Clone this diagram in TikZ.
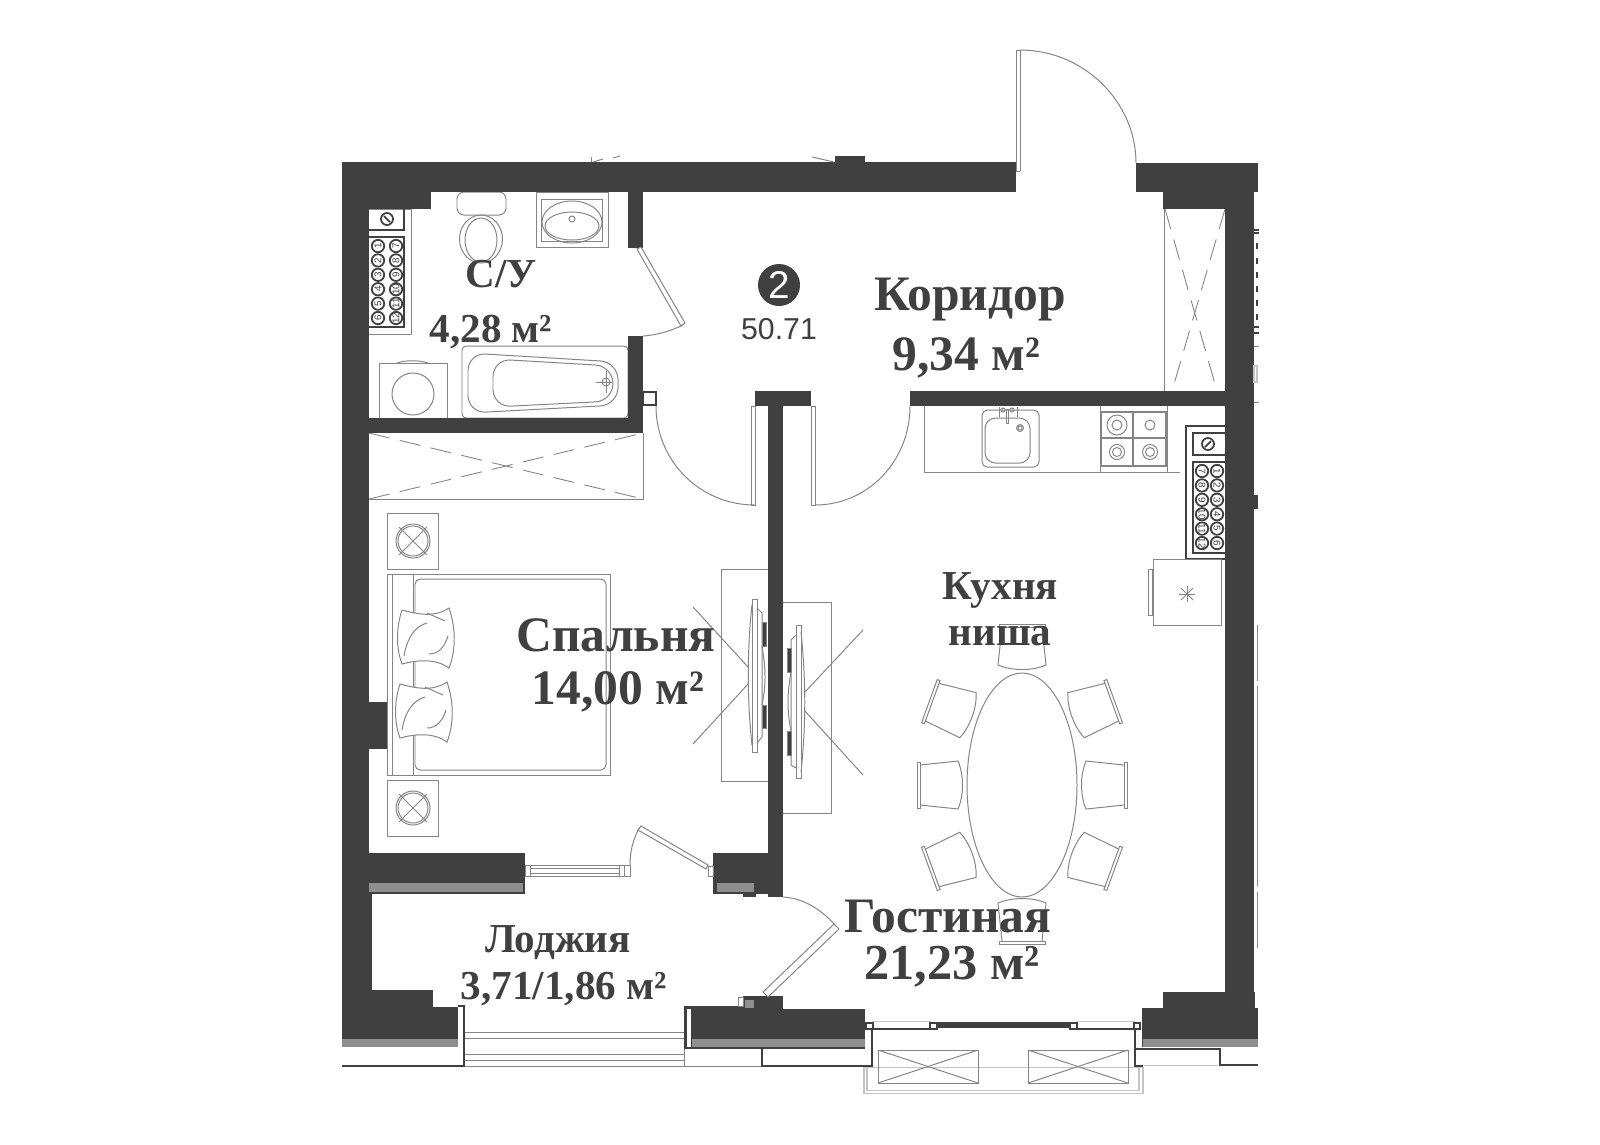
\documentclass[tikz,border=0pt]{standalone}
\usepackage{fontspec}
\setmainfont{Liberation Serif}
\newfontfamily\numfont{Liberation Sans}
\definecolor{wallcol}{HTML}{404040}
\definecolor{linecol}{HTML}{858585}
\definecolor{hatchcol}{HTML}{8E8E8E}
\definecolor{lightcol}{HTML}{C4C4C4}
\tikzset{
  wall/.style={fill=wallcol,draw=none},
  hatch/.style={fill=hatchcol,draw=none},
  fineline/.style={draw=linecol,line width=0.28pt},
  panelline/.style={draw=wallcol,line width=0.5pt},
  darkline/.style={draw=wallcol,line width=0.6pt},
  dashline/.style={draw=linecol,line width=0.25pt,dash pattern=on 6pt off 3pt},
  room/.style={text=wallcol,font=\bfseries\fontsize{14.1}{16}\selectfont,inner sep=0pt},
  smallroom/.style={text=wallcol,font=\bfseries\fontsize{11.7}{14}\selectfont,inner sep=0pt},
  dial/.style={text=wallcol,font=\numfont\fontsize{2.8}{3}\selectfont,inner sep=0pt},
}
\newcommand{\chair}[3]{
  \begin{scope}[shift={(#1,#2)},rotate=#3]
    \draw[fineline] (-23,-23) rectangle (-20,23) ;
    \draw[fineline] (-20,-20) -- (18,-24) .. controls (24,-10) and (24,10) .. (18,24) -- (-20,20) ;
  \end{scope}
}
\newcommand{\pillow}[2]{
  \begin{scope}[shift={(#1,#2)}]
    \draw[fineline,fill=white] (3,2) .. controls (18,6) and (35,10) .. (50,0) .. controls (57,20) and (57,42) .. (50,60) .. controls (36,50) and (18,52) .. (3,56) .. controls (-3,40) and (-3,20) .. (3,2) ;
    \draw[fineline] (5,48) .. controls (8,30) and (16,18) .. (28,15) ;
    \draw[fineline] (30,46) .. controls (40,46) and (46,38) .. (49,28) ;
    \draw[fineline] (28,5) -- (46,13) ;
  \end{scope}
}
\newcommand{\stand}[1]{
  \begin{scope}[shift={(413,#1)}]
    \draw[fineline] (-26,-28) rectangle (25,28) ;
    \draw[fineline] (0,0) circle (17) ;
    \draw[fineline] (0,0) circle (15) ;
    \draw[fineline] (-14,-14) -- (14,14) ;
    \draw[fineline] (-14,14) -- (14,-14) ;
  \end{scope}
}
\begin{document}
\begin{tikzpicture}[x=0.01cm,y=-0.01cm]
  \useasboundingbox (0,0) rectangle (1600,1144) ;
  \fill[white] (0,0) rectangle (1600,1144) ;

  % furniture first, the labels go over it
  \draw[dashline] (369,433) -- (643,499) ;
  \draw[dashline] (369,499) -- (643,433) ;
  \draw[fineline] (369,499) -- (643,499) -- (643,433) ;
  \draw[dashline] (1165,209) -- (1217,391) ;
  \draw[dashline] (1225,209) -- (1172,391) ;
  \draw[fineline] (1164,209) -- (1164,391) ;

  % wc
  \draw[fineline,rounded corners=2pt] (457,192) rectangle (506,215) ;
  \draw[fineline] (481,239) ellipse (21.5 and 24) ;
  \draw[fineline] (481,240) ellipse (16 and 22) ;
  \draw[fineline] (536,192) rectangle (608,247) ;
  \draw[fineline] (541,199) rectangle (602,241) ;
  \draw[fineline] (572,222) ellipse (30 and 21) ;
  \draw[fineline] (572,226) ellipse (27 and 14) ;
  \draw[fineline] (572,219) circle (3) ;

  % bath
  \draw[fineline,rounded corners=1.2pt] (462,346) rectangle (628,418) ;
  \draw[fineline,rounded corners=5pt] (468,353) -- (618,362) -- (618,405) -- (468,413) -- cycle ;
  \draw[fineline,rounded corners=5pt] (493,359) -- (613,366) -- (613,401) -- (493,407) -- cycle ;
  \draw[fineline] (606,382) circle (4) ;
  \draw[fineline] (596,382) -- (612,382) ;
  \draw[fineline] (606,371) -- (606,393) ;
  \draw[fineline] (379,418) -- (379,363) -- (447,363) -- (447,418) ;
  \draw[fineline] (413,394) circle (21) ;
  \draw[fineline] (397,363) .. controls (405,360) and (420,360) .. (428,363) ;

  % switch panel in the wc
  \draw[fineline] (369,209) -- (411,209) -- (411,334) -- (369,334) ;
  \draw[panelline] (369,230) -- (404,230) -- (404,209) ;
  \draw[panelline] (369,237) -- (404,237) -- (404,327) -- (369,327) ;
  \draw[panelline] (387,219) circle (6) ;
  \draw[panelline] (384,216) -- (390,222) ;
  \foreach \i in {1,...,6} {
    \pgfmathsetmacro{\ny}{246+(\i-1)*14.4}
    \pgfmathtruncatemacro{\nb}{\i+6}
    \draw[panelline] (378,\ny) circle (6.2) ;
    \draw[panelline] (396,\ny) circle (6.2) ;
    \node[dial,rotate=90] (wa\i) at (378,\ny) {\i} ;
    \node[dial,rotate=90] (wb\i) at (396,\ny) {\nb} ;
  }

  % kitchen
  \draw[fineline] (924,406) -- (924,472) -- (1180,472) ;
  \draw[fineline,rounded corners=1.5pt] (982,410) rectangle (1039,467) ;
  \draw[fineline,rounded corners=3pt] (985,418) rectangle (1030,463) ;
  \draw[fineline] (999,407) -- (999,417) ;
  \draw[fineline] (1017,407) -- (1017,417) ;
  \draw[fineline] (1006,409) rectangle (1008,423) ;
  \draw[fineline] (1003,410) circle (2) ;
  \draw[fineline] (1012,410) circle (2) ;
  \draw[fineline] (1020,428) circle (3.5) ;
  \draw[fineline] (1020,428) circle (2) ;
  \draw[fineline] (1100,406) -- (1100,472) ;
  \draw[fineline] (1167,406) -- (1167,472) ;
  \draw[draw=linecol,line width=0.45pt] (1101,412) rectangle (1166,466) ;
  \draw[draw=linecol,line width=0.45pt] (1133,412) -- (1133,466) ;
  \draw[draw=linecol,line width=0.45pt] (1101,438) -- (1166,438) ;
  \draw[fineline] (1117,425) circle (10) ;
  \draw[fineline] (1117,425) circle (5) ;
  \draw[fineline] (1150,425) circle (5) ;
  \draw[fineline] (1117,452) circle (7.5) ;
  \draw[fineline] (1117,452) circle (4.5) ;
  \draw[fineline] (1150,452) circle (7.5) ;
  \draw[fineline] (1150,452) circle (4.5) ;

  % switch panel in the kitchen
  \draw[panelline] (1225,426) -- (1186,426) -- (1186,559) -- (1225,559) ;
  \draw[panelline] (1225,433) -- (1193,433) -- (1193,455) -- (1225,455) ;
  \draw[panelline] (1225,462) -- (1193,462) -- (1193,553) -- (1225,553) ;
  \draw[panelline] (1208,444) circle (6) ;
  \draw[panelline] (1205,447) -- (1211,441) ;
  \foreach \i in {1,...,6} {
    \pgfmathsetmacro{\ny}{471+(\i-1)*14.4}
    \pgfmathtruncatemacro{\nb}{\i+6}
    \draw[panelline] (1217,\ny) circle (6.2) ;
    \draw[panelline] (1202,\ny) circle (6.2) ;
    \node[dial,rotate=-90] (ka\i) at (1217,\ny) {\i} ;
    \node[dial,rotate=-90] (kb\i) at (1202,\ny) {\nb} ;
  }
  \draw[fineline] (1153,559) rectangle (1221,625) ;
  \draw[fineline] (1148,569) rectangle (1152,615) ;
  \draw[fineline] (1179,594) -- (1195,594) ;
  \draw[fineline] (1187,586) -- (1187,602) ;
  \draw[fineline] (1181,588) -- (1193,600) ;
  \draw[fineline] (1181,600) -- (1193,588) ;

  % bed
  \stand{541}
  \stand{808}
  \draw[fineline] (387,574) rectangle (610,775) ;
  \draw[fineline] (392,574) -- (392,775) ;
  \draw[fineline] (413,574) -- (413,775) ;
  \draw[fineline,rounded corners=1.5pt] (415,579) rectangle (606,770) ;
  \pillow{399}{608}
  \pillow{397}{682}

  % tv
  \draw[fineline] (768,569) -- (721,569) -- (721,781) -- (768,781) ;
  \draw[fineline] (783,602) -- (831,602) -- (831,813) -- (783,813) ;
  \draw[fineline] (693,607) -- (749,668) ;
  \draw[fineline] (693,744) -- (749,683) ;
  \draw[fineline] (863,630) -- (804,693) ;
  \draw[fineline] (863,775) -- (804,710) ;
  \draw[fineline] (752,599) rectangle (757,752) ;
  \draw[fineline] (752,605) .. controls (747,650) and (747,700) .. (752,745) ;
  \draw[fineline] (757,608) -- (762,613) -- (762,737) -- (757,743) ;
  \draw[fineline] (762,646) .. controls (766,670) and (766,685) .. (762,705) ;
  \draw[fineline,fill=wallcol] (762,622) rectangle (766,646) ;
  \draw[fineline,fill=wallcol] (762,705) rectangle (766,728) ;
  \draw[fineline] (796,625) rectangle (801,778) ;
  \draw[fineline] (801,632) .. controls (806,680) and (806,725) .. (801,772) ;
  \draw[fineline] (796,635) -- (791,640) -- (791,765) -- (796,768) ;
  \draw[fineline] (791,672) .. controls (787,695) and (787,710) .. (791,731) ;
  \draw[fineline,fill=wallcol] (787,648) rectangle (791,672) ;
  \draw[fineline,fill=wallcol] (787,731) rectangle (791,755) ;

  % dining table
  \draw[fineline] (1022,785) ellipse (55 and 112) ;
  \chair{940}{785}{0}
  \chair{951}{709}{-20}
  \chair{951}{861}{20}
  \chair{1104}{785}{180}
  \chair{1093}{709}{200}
  \chair{1093}{861}{160}
  \chair{1022}{647}{-90}
  \chair{1022}{921}{90}

  % walls
  \path[wall] (342,162) rectangle (1016,192) ;
  \path[wall] (342,162) rectangle (369,1047) ;
  \path[wall] (369,853) rectangle (525,894) ;
  \path[wall] (369,894) rectangle (372,990) ;
  \path[wall] (342,990) rectangle (433,1007) ;
  \path[wall] (342,1007) rectangle (458,1047) ;
  \path[wall] (369,192) rectangle (431,209) ;
  \path[wall] (369,702) rectangle (387,749) ;
  \path[wall] (628,192) rectangle (643,248) ;
  \path[wall] (628,336) rectangle (643,433) ;
  \path[wall] (369,418) rectangle (643,433) ;
  \path[wall] (755,391) rectangle (811,406) ;
  \path[wall] (768,406) rectangle (783,897) ;
  \path[wall] (713,853) rectangle (783,894) ;
  \path[wall] (743,894) rectangle (756,897) ;
  \path[wall] (910,391) rectangle (1225,406) ;
  \path[wall] (835,156) rectangle (865,162) ;
  \path[wall] (1136,163) rectangle (1258,192) ;
  \path[wall] (1163,192) rectangle (1254,209) ;
  \path[wall] (1225,192) rectangle (1254,992) ;
  \path[wall] (1163,992) rectangle (1255,1009) ;
  \path[wall] (1142,1008) rectangle (1258,1047) ;
  \path[wall] (684,1006) rectangle (783,1049) ;
  \path[wall] (743,996) rectangle (783,1006) ;
  \path[wall] (783,1009) rectangle (865,1049) ;
  \path[wall] (1250,495) rectangle (1258,509) ;
  \fill[white] (687,1009) rectangle (691,1047) ;
  \path[hatch] (369,883) rectangle (523,892) ;
  \path[hatch] (717,883) rectangle (754,892) ;
  \path[hatch] (342,1039) rectangle (458,1047) ;
  \path[hatch] (692,1039) rectangle (865,1047) ;
  \path[hatch] (1143,1039) rectangle (1258,1047) ;
  \path[hatch] (745,1000) rectangle (754,1008) ;

  % doors
  \draw[fineline] (1020,171) -- (1016,171) -- (1016,50) -- (1020,50) -- (1020,171) ;
  \draw[fineline] (1020,50) .. controls (1084,50) and (1136,102) .. (1136,163) ;
  \draw[fineline] (751,406) rectangle (755,505) ;
  \draw[fineline] (755,505) .. controls (700,505) and (656,461) .. (656,406) ;
  \draw[fineline] (811,406) rectangle (815,505) ;
  \draw[fineline] (815,505) .. controls (868,505) and (910,461) .. (910,406) ;
  \draw[darkline,line width=0.3pt] (643,392) rectangle (656,405) ;
  \draw[fineline] (637,249) -- (641,247) -- (685,323) -- (681,326) -- cycle ;
  \draw[fineline] (683,325) .. controls (671,331) and (657,335) .. (643,336) ;
  \draw[fineline] (638,830) -- (641,826) -- (708,865) -- (706,869) -- cycle ;
  \draw[fineline] (630,865) .. controls (630,851) and (633,840) .. (639,828) ;
  \draw[fineline] (763,992) -- (768,997) -- (839,929) -- (834,924) -- cycle ;
  \draw[fineline] (836,926) .. controls (820,908) and (802,898) .. (783,897) ;

  % balcony door and windows
  \draw[fineline] (525,865) rectangle (530,876) ;
  \draw[fineline] (530,865) -- (619,865) ;
  \draw[fineline] (530,868) -- (619,868) ;
  \draw[fineline] (530,873) -- (619,873) ;
  \draw[fineline] (530,876) -- (619,876) ;
  \draw[fineline] (619,865) rectangle (630,876) ;
  \draw[fineline] (624,865) -- (624,876) ;
  \draw[fineline] (708,866) rectangle (713,876) ;
  \draw[fineline] (738,997) rectangle (743,1006) ;
  \draw[darkline] (458,1006) -- (464,1006) -- (464,1066) -- (342,1066) ;
  \draw[fineline] (465,1032) -- (684,1032) ;
  \draw[fineline] (465,1038) -- (684,1038) ;
  \draw[fineline] (465,1054) -- (684,1054) ;
  \draw[fineline] (465,1060) -- (684,1060) ;
  \draw[fineline] (465,1066) -- (762,1066) ;
  \draw[fineline] (684,1049) -- (684,1066) ;
  \draw[darkline] (762,1049) -- (762,1066) -- (872,1066) -- (872,1029) ;
  \draw[darkline] (1135,1029) -- (1135,1066) -- (1143,1066) ;
  \draw[darkline] (1135,1049) -- (1220,1049) -- (1220,1065) -- (1258,1065) ;
  \draw[draw=lightcol,line width=0.3pt] (1143,1065) -- (1218,1065) ;
  \draw[draw=lightcol,line width=0.3pt] (864,1067) -- (1143,1067) ;
  \draw[draw=lightcol,line width=0.3pt] (864,1067) -- (864,1093) -- (1143,1093) -- (1143,1067) ;
  \draw[draw=lightcol,line width=0.3pt] (867,1067) -- (867,1090) -- (1139,1090) -- (1139,1067) ;
  \draw[fineline] (878,1050) rectangle (978,1083) ;
  \draw[fineline] (878,1050) -- (978,1083) ;
  \draw[fineline] (878,1083) -- (978,1050) ;
  \draw[fineline] (1028,1050) rectangle (1128,1083) ;
  \draw[fineline] (1028,1050) -- (1128,1083) ;
  \draw[fineline] (1028,1083) -- (1128,1050) ;
  \draw[draw=lightcol,line width=0.3pt] (873,1021) rectangle (930,1028) ;
  \draw[draw=lightcol,line width=0.3pt] (1077,1021) rectangle (1134,1028) ;
  \draw[panelline] (873,1029) -- (930,1029) ;
  \draw[panelline] (1077,1029) -- (1134,1029) ;
  \draw[darkline] (937,1023.5) -- (1070,1023.5) ;
  \draw[darkline] (937,1026.5) -- (1070,1026.5) ;
  \draw[panelline,fill=white] (866,1023) rectangle (873,1029) ;
  \draw[panelline,fill=white] (930,1023) rectangle (937,1029) ;
  \draw[panelline,fill=white] (1070,1023) rectangle (1077,1029) ;
  \draw[panelline,fill=white] (1134,1023) rectangle (1140,1029) ;

  % marks outside the walls
  \draw[fineline] (591,157) -- (591,162) ;
  \draw[fineline] (593,162) -- (603,159) ;
  \draw[fineline] (613,158) -- (620,156) ;
  \draw[fineline] (812,157) -- (834,162) ;
  \draw[draw=lightcol,line width=0.4pt] (1254,366) rectangle (1257,382) ;
  \draw[panelline] (1254,230) -- (1259,230) ;
  \draw[panelline] (1254,233) -- (1259,233) ;
  \draw[panelline] (1254,327) -- (1259,327) ;
  \draw[panelline] (1254,333) -- (1259,333) ;
  \foreach \my in {246,261,275,289,303,317} {
    \draw[panelline] (1257,\my-3) -- (1257,\my+3) ;
  }
  \draw[fineline] (1254,346) -- (1259,346) ;
  \draw[fineline] (1254,402) -- (1259,402) ;
  \draw[fineline] (1257,625) -- (1257,681) ;
  \draw[fineline] (1257,686) -- (1257,886) ;
  \draw[fineline] (1257,892) -- (1257,948) ;

  % labels
  \node[room] (corridor) at (970,300) {Коридор} ;
  \node[room] (corridorarea) at (966.5,358) {9,34 м²} ;
  \node[smallroom] (wc) at (501,274) {С/У} ;
  \node[smallroom] (wcarea) at (491,332) {4,28 м²} ;
  \node[room] (bedroom) at (616,635) {Спальня} ;
  \node[room] (bedroomarea) at (618,692) {14,00 м²} ;
  \node[smallroom] (kitchen) at (1000,590) {Кухня} ;
  \node[smallroom] (niche) at (1000,636) {ниша} ;
  \node[room] (living) at (948,916) {Гостиная} ;
  \node[room,font=\bfseries\fontsize{14.3}{16}\selectfont] (livingarea) at (952,967) {21,23 м²} ;
  \node[smallroom] (loggia) at (558,943) {Лоджия} ;
  \node[smallroom] (loggiaarea) at (564,989) {3,71/1,86 м²} ;
  \node[circle,fill=wallcol,minimum size=0.42cm,inner sep=0pt,text=white,font=\numfont\fontsize{11}{13}\selectfont] (flatno) at (779,285) {2} ;
  \node[text=wallcol,font=\numfont\fontsize{8.6}{10}\selectfont,inner sep=0pt] (flatarea) at (779,329) {50.71} ;
\end{tikzpicture}
\end{document}
